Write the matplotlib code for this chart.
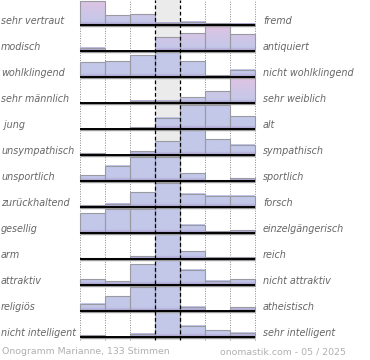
import numpy as np
import matplotlib
matplotlib.use("Agg")
import matplotlib.pyplot as plt
from matplotlib.colors import to_rgb

left_labels = ["sehr vertraut", "modisch", "wohlklingend", "sehr männlich", " jung",
               "unsympathisch", "unsportlich", "zurückhaltend", "gesellig", "arm",
               "attraktiv", "religiös", "nicht intelligent"]
right_labels = ["fremd", "antiquiert", "nicht wohlklingend", "sehr weiblich", "alt",
                "sympathisch", "sportlich", "forsch", "einzelgängerisch", "reich",
                "nicht attraktiv", "atheistisch", "sehr intelligent"]

# bar heights per row (7 bins, left -> right)
v_vertraut = [24, 9.7, 10.7, 2.3, 3.3, 1.7, 1.3]
v_modisch = [3.3, 0, 0, 14, 18, 25.3, 16.7]
v_wohlkl = [14.7, 16, 21.7, 24.7, 15.7, 1.7, 7.3]
v_maennl = [0, 0, 2.3, 2.3, 6, 12, 26]
v_jung = [0, 0, 1.7, 11.3, 24.3, 24.3, 13]
v_unsymp = [1.7, 0, 4, 14, 24.7, 16, 10.3]
v_unsport = [6, 15.3, 24, 24, 8, 1, 2.7]
v_zurueck = [2, 3.3, 14.7, 24.5, 13.3, 11.3, 11.3]
v_gesellig = [19.7, 24.3, 24.3, 25, 8.3, 2, 2.7]
v_arm = [0.7, 0.7, 3, 25, 8, 1.7, 1.7]
v_attr = [5.7, 3.7, 20.7, 25, 15.3, 4.3, 5.7]
v_relig = [7.3, 14.7, 23.7, 25, 4.3, 0, 3.7]
v_intell = [1.7, 0, 3.3, 26, 11.3, 7, 4.3]
values = [v_vertraut, v_modisch, v_wohlkl, v_maennl, v_jung, v_unsymp, v_unsport,
          v_zurueck, v_gesellig, v_arm, v_attr, v_relig, v_intell]
pink_rows = [0, 1, 3]

footer_left = "Onogramm Marianne, 133 Stimmen"
footer_right = "onomastik.com - 05 / 2025"

W, H = 370, 360
fig = plt.figure(figsize=(W / 100, H / 100), dpi=100)
ax = fig.add_axes([0, 0, 1, 1])
ax.set_xlim(0, W)
ax.set_ylim(0, H)
ax.axis("off")

x0 = 80
bw = 25
nb = 7
row_h = 26
top_base = 25  # pixel from top of first baseline
y_top = H
y_bottom = H - 340

# middle gray band
ax.fill_between([x0 + 3 * bw, x0 + 4 * bw], y_bottom, y_top, color="#ebebeb", zorder=0, lw=0)

blue = np.array(to_rgb("#c3c8e9"))
purple = np.array(to_rgb("#a596c6"))
pink = np.array(to_rgb("#e2c3e3"))

for k, vals in enumerate(values):
    base = H - (top_base + row_h * k)
    xs = x0 + bw * np.arange(nb)
    for j, h in enumerate(vals):
        if h <= 0:
            continue
        n = 60
        yy = np.linspace(0, h, n)
        cols = np.tile(blue, (n, 1))
        if k in pink_rows:
            f = np.clip(yy / 26.0, 0, 1) ** 1.3
            cols = cols * (1 - f[:, None]) + pink * f[:, None]
        fb = np.clip(1 - yy / 3.5, 0, 1)
        cols = cols * (1 - fb[:, None]) + purple * fb[:, None]
        img = cols[:, None, :]
        ax.imshow(img, extent=[xs[j], xs[j] + bw, base, base + h], origin="lower",
                  aspect="auto", interpolation="bilinear", zorder=2)
    ax.bar(xs, vals, width=bw, bottom=base, align="edge", fill=False,
           edgecolor="#9a9aa2", linewidth=0.8, zorder=3)
    # baseline with shadow
    ax.plot([x0, x0 + nb * bw], [base - 1.3, base - 1.3], color="#9a9a9a", lw=1.0, zorder=4,
            solid_capstyle="butt")
    ax.plot([x0, x0 + nb * bw], [base, base], color="black", lw=1.4, zorder=5,
            solid_capstyle="butt")
    ax.text(1, base + 1.5, left_labels[k], ha="left", va="baseline", fontsize=6.9,
            style="italic", color="#666666", zorder=6)
    ax.text(263, base + 1.5, right_labels[k], ha="left", va="baseline", fontsize=6.9,
            style="italic", color="#666666", zorder=6)

# grid lines
for j in range(nb + 1):
    xv = x0 + j * bw
    if j in (3, 4):
        ax.plot([xv, xv], [y_bottom, y_top], color="black", lw=0.9, ls=(0, (3, 2)), zorder=4.5)
    else:
        ax.plot([xv, xv], [y_bottom, y_top], color="#888888", lw=0.7, ls=(0, (1, 1.5)), zorder=1)

ax.text(2, H - 352, footer_left, ha="left", va="center", fontsize=6.75, color="#b0b0b0")
ax.text(220, H - 352, footer_right, ha="left", va="center", fontsize=6.75, color="#b0b0b0")

fig.savefig("out.png", dpi=100)
